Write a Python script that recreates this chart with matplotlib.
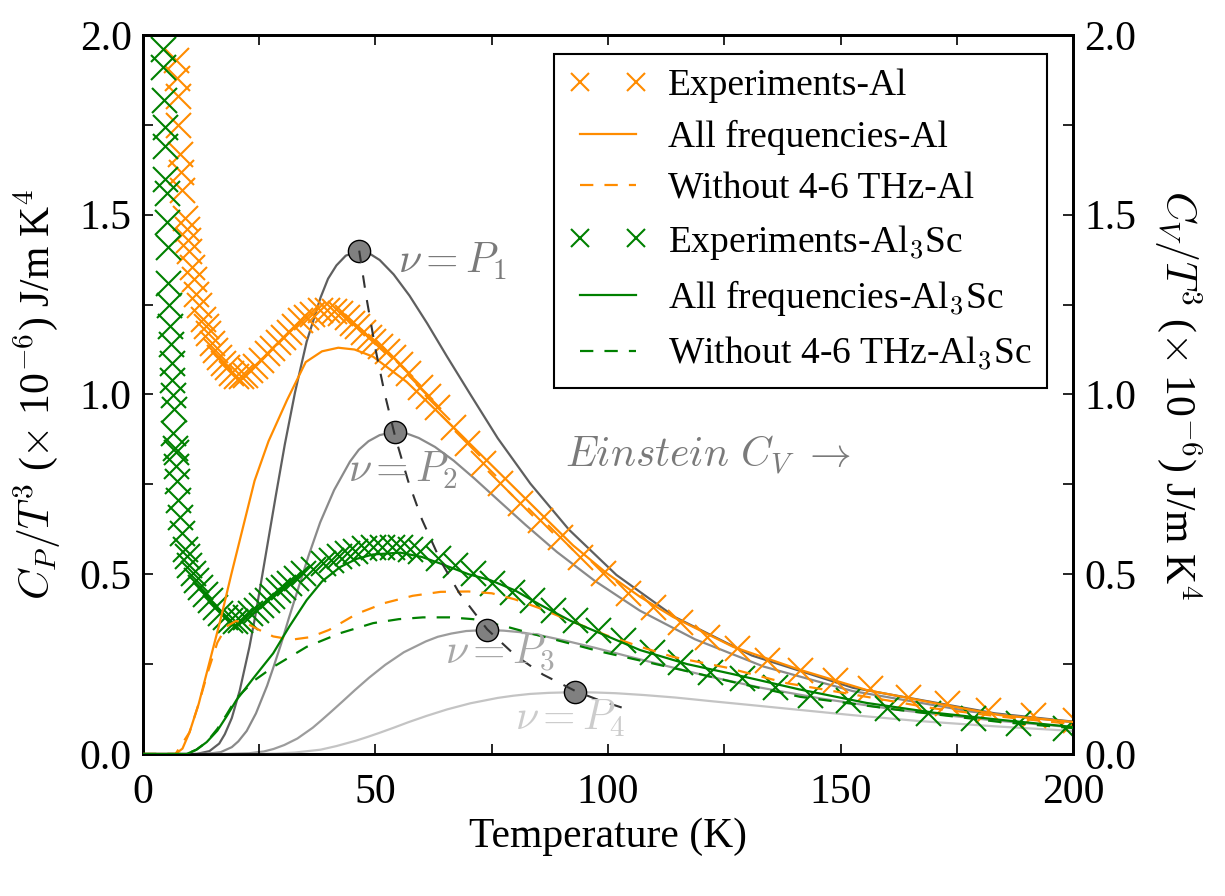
import numpy as np
import matplotlib
matplotlib.use("Agg")
import matplotlib.pyplot as plt
from matplotlib.ticker import MultipleLocator

# fuentes tipo Times + mathtext estilo LaTeX
plt.rcParams['font.family'] = ['Liberation Serif', 'DejaVu Serif']
plt.rcParams['mathtext.fontset'] = 'cm'

naranja = '#ff8c00'
verde = '#008000'

# --- Experimentos Al (cruces naranjas) ---
T_exp_al = [7.2, 7.4, 7.5, 7.6, 7.9, 8.2, 8.5, 9.0, 9.4, 9.7, 10.0, 10.5, 11.0, 11.5, 12.0,
            12.9, 13.5, 14.0, 14.8, 15.5, 16.3, 17.2, 18.0, 19.0, 20.1, 21.0, 22.0, 23.0,
            24.0, 25.3, 26.6, 27.8, 29.0, 30.1, 31.3, 32.5, 33.8, 35.0, 36.4, 38.0, 39.5,
            41.0, 42.4, 43.8, 45.0, 46.0, 47.3, 48.5, 49.5, 51.0, 52.5, 53.8, 55.3, 57.0,
            59.6, 61.3, 63.2, 66.7, 69.6, 73.2, 76.8, 81.0, 85.4, 89.7, 94.0, 98.9, 104.4,
            109.7, 115.5, 121.3, 127.7, 134.2, 141.3, 148.8, 156.3, 164.5, 172.9, 181.7,
            191.4, 200.5]
y_exp_al = [1.93, 1.88, 1.83, 1.75, 1.67, 1.62, 1.57, 1.49, 1.46, 1.43, 1.40, 1.355, 1.32,
            1.28, 1.25, 1.21, 1.19, 1.17, 1.143, 1.125, 1.105, 1.087, 1.075, 1.06, 1.05,
            1.05, 1.055, 1.068, 1.08, 1.095, 1.115, 1.13, 1.145, 1.16, 1.175, 1.19, 1.207,
            1.215, 1.225, 1.235, 1.235, 1.232, 1.227, 1.215, 1.20, 1.19, 1.175, 1.16, 1.15,
            1.135, 1.12, 1.105, 1.085, 1.06, 1.02, 0.995, 0.966, 0.91, 0.865, 0.81, 0.754,
            0.698, 0.65, 0.604, 0.549, 0.503, 0.447, 0.409, 0.367, 0.326, 0.294, 0.262,
            0.234, 0.206, 0.183, 0.159, 0.142, 0.122, 0.108, 0.095]

# --- Todas las frecuencias Al ---
T_all_al = [0, 7.0, 8.5, 10.0, 12.0, 14.0, 16.6, 19.0, 21.5, 24.0, 27.0, 31.0, 35.0, 38.5,
            42.0, 45.5, 49.5, 56.7, 63.9, 71.0, 78.2, 85.4, 92.5, 99.7, 106.9, 114.0, 126.9,
            141.3, 155.6, 170.0, 184.3, 200.0]
y_all_al = [0, 0, 0.015, 0.06, 0.14, 0.24, 0.37, 0.50, 0.63, 0.76, 0.87, 0.985, 1.09, 1.12,
            1.13, 1.125, 1.105, 1.035, 0.945, 0.854, 0.762, 0.67, 0.58, 0.503, 0.437, 0.381,
            0.298, 0.234, 0.178, 0.142, 0.108, 0.089]

# --- Sin 4-6 THz Al ---
T_sin_al = [0, 7.0, 10.0, 12.0, 14.0, 16.0, 18.0, 20.0, 22.0, 25.0, 28.0, 32.0, 36.0, 40.0,
            46.0, 52.0, 58.0, 64.0, 70.0, 75.0, 80.0, 85.4, 92.0, 99.7, 107.0, 114.0, 125.6,
            138.4, 155.6, 170.0, 184.3, 200.0]
y_sin_al = [0, 0, 0.06, 0.14, 0.23, 0.31, 0.355, 0.37, 0.365, 0.345, 0.327, 0.318, 0.325,
            0.345, 0.39, 0.42, 0.44, 0.451, 0.452, 0.447, 0.43, 0.405, 0.37, 0.33, 0.298,
            0.27, 0.24, 0.197, 0.159, 0.127, 0.104, 0.083]

# --- Experimentos Al3Sc (cruces verdes) ---
T_exp_sc = [4.3, 4.3, 4.5, 4.7, 4.7, 4.7, 5.1, 5.2, 5.4, 5.4, 5.6, 5.8, 6.0, 6.2, 6.3, 6.5,
            6.6, 6.8, 6.5, 7.0, 7.2, 7.4, 7.6, 8.0, 8.3, 9.0, 9.4, 10.0, 10.8, 11.5, 12.3,
            13.3, 14.4, 15.5, 16.6, 17.6, 18.7, 19.8, 20.9, 22.0, 23.0, 24.2, 25.4, 26.6,
            27.8, 29.0, 30.1, 31.3, 32.8, 34.4, 36.5, 38.7, 40.5, 42.2, 43.8, 45.5, 47.5,
            49.5, 51.5, 53.5, 55.3, 57.5, 59.6, 63.5, 67.0, 71.0, 75.0, 79.3, 83.6, 88.2,
            92.9, 97.8, 103.2, 109.4, 115.5, 121.9, 128.7, 135.9, 143.4, 151.6, 160.0,
            168.8, 178.5, 188.2, 198.3]
y_exp_sc = [1.96, 1.91, 1.82, 1.745, 1.69, 1.60, 1.56, 1.48, 1.41, 1.31, 1.25, 1.19, 1.14,
            1.087, 1.04, 0.998, 0.96, 0.85, 0.893, 0.84, 0.80, 0.76, 0.707, 0.66, 0.614,
            0.57, 0.55, 0.525, 0.503, 0.485, 0.465, 0.445, 0.428, 0.41, 0.392, 0.38, 0.373,
            0.37, 0.373, 0.38, 0.392, 0.40, 0.415, 0.428, 0.44, 0.455, 0.465, 0.475, 0.49,
            0.503, 0.515, 0.531, 0.54, 0.55, 0.559, 0.565, 0.572, 0.576, 0.577, 0.577, 0.576,
            0.57, 0.565, 0.545, 0.527, 0.503, 0.475, 0.45, 0.428, 0.40, 0.373, 0.345, 0.317,
            0.284, 0.256, 0.228, 0.211, 0.187, 0.164, 0.15, 0.127, 0.114, 0.10, 0.086, 0.072]

# --- Todas las frecuencias Al3Sc ---
T_all_sc = [0, 9.4, 11.5, 13.7, 16.0, 18.0, 20.1, 24.0, 28.0, 31.5, 35.2, 38.5, 42.4, 46.0,
            49.5, 55.3, 60.0, 63.9, 70.0, 74.6, 80.0, 85.4, 92.0, 98.3, 106.9, 117.0, 126.9,
            141.0, 155.6, 170.0, 184.3, 200.0]
y_all_sc = [0, 0, 0.012, 0.033, 0.065, 0.105, 0.15, 0.215, 0.28, 0.355, 0.428, 0.48, 0.52,
            0.543, 0.555, 0.56, 0.548, 0.53, 0.50, 0.484, 0.455, 0.415, 0.37, 0.336, 0.289,
            0.25, 0.222, 0.18, 0.142, 0.115, 0.095, 0.075]

# --- Sin 4-6 THz Al3Sc ---
T_sin_sc = [0, 9.4, 11.5, 13.7, 16.0, 18.0, 20.1, 24.0, 28.0, 35.2, 42.4, 49.5, 55.0, 60.2,
            66.0, 71.0, 78.2, 85.0, 92.5, 98.3, 106.9, 119.8, 126.9, 141.3, 162.8, 184.3,
            200.0]
y_sin_sc = [0, 0, 0.012, 0.033, 0.07, 0.11, 0.155, 0.205, 0.242, 0.298, 0.336, 0.364, 0.375,
            0.38, 0.38, 0.375, 0.354, 0.33, 0.305, 0.285, 0.26, 0.222, 0.20, 0.159, 0.122,
            0.089, 0.072]

# --- Curvas de Einstein ---
T_p1 = [0, 11.5, 14.3, 16.4, 17.6, 19.1, 20.8, 22.9, 24.1, 25.4, 26.9, 28.6, 30.5, 32.7,
        35.2, 38.2, 39.8, 41.6, 43.6, 46.5, 48.7, 50.9, 53.9, 57.3, 61.1, 65.4, 70.5, 76.3,
        83.3, 91.6, 101.8, 114.5, 130.9, 152.7, 183.2, 200.0]
y_p1 = [0, 0.0, 0.008, 0.029, 0.055, 0.100, 0.176, 0.298, 0.380, 0.478, 0.592, 0.721, 0.861,
        1.006, 1.147, 1.270, 1.322, 1.359, 1.386, 1.40, 1.392, 1.374, 1.334, 1.275, 1.198,
        1.105, 0.998, 0.878, 0.752, 0.624, 0.498, 0.380, 0.274, 0.184, 0.113, 0.090]
T_p2 = [0, 13.4, 16.7, 19.1, 20.5, 22.3, 24.3, 26.7, 28.1, 29.7, 31.4, 33.4, 35.6, 38.1,
        41.1, 44.5, 46.4, 48.5, 50.9, 54.2, 56.8, 59.3, 62.8, 66.8, 71.2, 76.3, 82.2, 89.0,
        97.1, 106.8, 118.7, 133.5, 152.6, 178.0, 200.0]
y_p2 = [0, 0.0, 0.005, 0.019, 0.035, 0.064, 0.113, 0.190, 0.243, 0.306, 0.379, 0.461, 0.551,
        0.644, 0.734, 0.813, 0.846, 0.870, 0.887, 0.896, 0.891, 0.879, 0.854, 0.816, 0.767,
        0.707, 0.638, 0.562, 0.482, 0.399, 0.319, 0.243, 0.175, 0.118, 0.088]
T_p3 = [0, 18.2, 22.8, 26.0, 28.1, 30.4, 33.2, 36.5, 38.4, 40.5, 42.9, 45.6, 48.6, 52.1,
        56.1, 60.8, 63.4, 66.3, 69.5, 74.0, 77.6, 81.0, 85.8, 91.2, 97.3, 104.2, 112.2,
        121.6, 132.6, 145.9, 162.1, 182.4, 200.0]
y_p3 = [0, 0.0, 0.002, 0.007, 0.014, 0.025, 0.043, 0.073, 0.094, 0.118, 0.146, 0.178, 0.212,
        0.248, 0.283, 0.313, 0.326, 0.335, 0.342, 0.345, 0.343, 0.339, 0.329, 0.314, 0.295,
        0.272, 0.246, 0.216, 0.185, 0.154, 0.123, 0.094, 0.074]
T_p4 = [0, 22.9, 28.6, 32.7, 38.2, 41.6, 45.8, 48.2, 50.9, 53.9, 57.2, 61.0, 65.4, 70.4,
        76.3, 79.6, 83.2, 87.2, 92.9, 97.4, 101.7, 107.7, 114.5, 122.1, 130.8, 140.9, 152.6,
        166.5, 183.1, 200.0]
y_p4 = [0, 0.0, 0.001, 0.004, 0.012, 0.022, 0.037, 0.047, 0.059, 0.073, 0.089, 0.106, 0.124,
        0.141, 0.156, 0.162, 0.167, 0.170, 0.172, 0.171, 0.169, 0.164, 0.157, 0.147, 0.136,
        0.123, 0.108, 0.092, 0.077, 0.064]

# picos y lugar geometrico de los picos
T_picos = [46.5, 54.2, 74.0, 92.9]
y_picos = [1.40, 0.896, 0.345, 0.172]
T_locus = [46.5, 48.0, 50.0, 52.0, 54.2, 57.0, 60.0, 64.0, 68.0, 74.0, 80.0, 86.0, 93.0,
           98.0, 103.0]
y_locus = [1.40, 1.273, 1.126, 1.001, 0.884, 0.760, 0.652, 0.537, 0.448, 0.347, 0.275, 0.221,
           0.175, 0.150, 0.129]

etiquetas = [r'$\nu = P_1$', r'$\nu = P_2$', r'$\nu = P_3$', r'$\nu = P_4$']
pos_etiquetas = [(54.8, 1.338), (44.1, 0.757), (65.0, 0.248), (80.0, 0.067)]
grises = ['#5f5f5f', '#8a8a8a', '#9c9c9c', '#c4c4c4']
grises_txt = ['#7a7a7a', '#8a8a8a', '#a8a8a8', '#cccccc']

fig = plt.figure(figsize=(12.25, 8.96), dpi=100)
ax = fig.add_axes([0.1167, 0.1585, 0.7593, 0.8025])

# curvas de Einstein (fondo)
for (Tp, yp), c in zip([(T_p1, y_p1), (T_p2, y_p2), (T_p3, y_p3), (T_p4, y_p4)], grises):
    ax.plot(Tp, yp, color=c, lw=1.6, zorder=1)

ax.plot(T_exp_al, y_exp_al, 'x', color=naranja, ms=18, mew=1.5, label='Experiments-Al', zorder=2)
ax.plot(T_all_al, y_all_al, '-', color=naranja, lw=1.6, label='All frequencies-Al', zorder=3)
ax.plot(T_sin_al, y_sin_al, '--', color=naranja, lw=1.6, dashes=(6, 5),
        label='Without 4-6 THz-Al', zorder=3)
ax.plot(T_exp_sc, y_exp_sc, 'x', color=verde, ms=18, mew=1.5,
        label=r'Experiments-Al$_3$Sc', zorder=2)
ax.plot(T_all_sc, y_all_sc, '-', color=verde, lw=1.6, label=r'All frequencies-Al$_3$Sc', zorder=3)
ax.plot(T_sin_sc, y_sin_sc, '--', color=verde, lw=1.6, dashes=(6, 5),
        label=r'Without 4-6 THz-Al$_3$Sc', zorder=3)

ax.plot(T_picos, y_picos, 'o', color='#808080', mec='black', mew=1.0, ms=16, zorder=4)
ax.plot(T_locus, y_locus, '--', color='#333333', lw=1.5, dashes=(6, 6), zorder=5)

for txt, (tx, ty), c in zip(etiquetas, pos_etiquetas, grises_txt):
    ax.text(tx, ty, txt, fontsize=30, color=c, ha='left', va='baseline', zorder=6)
ax.text(90.8, 0.796, r'$Einstein\ C_V\ \rightarrow$', fontsize=30, color='#7a7a7a',
        ha='left', va='baseline', zorder=6)

ax.set_xlim(0, 200)
ax.set_ylim(0, 2.0)
ax.xaxis.set_major_locator(MultipleLocator(50))
ax.xaxis.set_minor_locator(MultipleLocator(25))
ax.yaxis.set_major_locator(MultipleLocator(0.5))
ax.yaxis.set_minor_locator(MultipleLocator(0.25))
ax.tick_params(which='both', direction='in', top=True, right=False, length=7, width=1.2,
               labelsize=30)
ax.tick_params(axis='x', pad=14)
ax.tick_params(axis='y', pad=8)
for s in ax.spines.values():
    s.set_linewidth(2)

ax.set_xlabel('Temperature (K)', fontsize=30)
ax.set_ylabel(r'$C_P/T^3$ ($\times$ 10$^{-6}$) J/m K$^4$', fontsize=30, labelpad=12)

# eje derecho
ax2 = ax.twinx()
ax2.set_ylim(0, 2.0)
ax2.yaxis.set_major_locator(MultipleLocator(0.5))
ax2.yaxis.set_minor_locator(MultipleLocator(0.25))
ax2.tick_params(which='both', direction='in', length=7, width=1.2, labelsize=30, pad=8)
ax2.set_ylabel(r'$C_V/T^3$ ($\times$ 10$^{-6}$) J/m K$^4$', fontsize=30, rotation=-90,
               labelpad=48)
for s in ax2.spines.values():
    s.set_linewidth(2)

leg = ax.legend(loc='upper right', bbox_to_anchor=(0.972, 0.9736), borderaxespad=0,
                fontsize=27, numpoints=2, markerscale=0.75, handlelength=2.1,
                handletextpad=0.55, labelspacing=0.44, borderpad=0.4, fancybox=False,
                framealpha=1, edgecolor='black')
leg.get_frame().set_linewidth(1.5)
leg.set_zorder(10)
ax2.set_zorder(ax.get_zorder() - 1)
ax.patch.set_visible(False)

fig.savefig('out.png', dpi=100)
